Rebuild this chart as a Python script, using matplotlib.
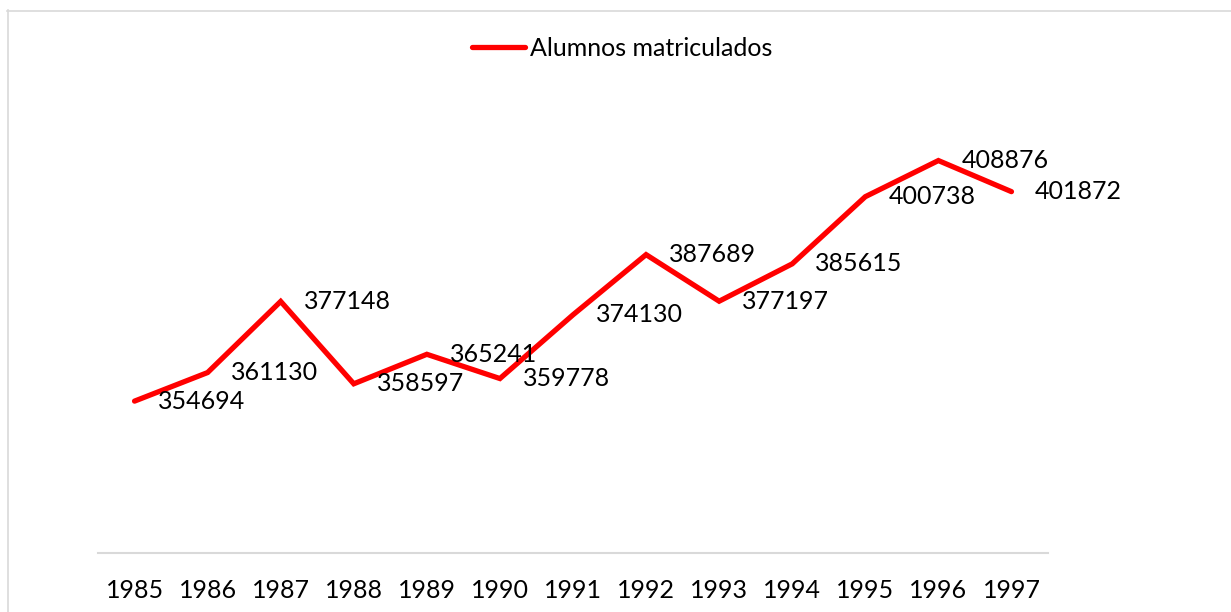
import matplotlib
matplotlib.use("Agg")
import matplotlib.pyplot as plt
from matplotlib.lines import Line2D

years = ["1985", "1986", "1987", "1988", "1989", "1990", "1991",
         "1992", "1993", "1994", "1995", "1996", "1997"]
alumnos = [354694, 361130, 377148, 358597, 365241, 359778, 374130,
           387689, 377197, 385615, 400738, 408876, 401872]

plt.rcParams['font.family'] = ['Lato', 'DejaVu Sans']

W, H = 1231, 612
fig = plt.figure(figsize=(W / 100, H / 100), dpi=100)
ax = fig.add_axes([98 / W, 1 - 552.5 / H, 950 / W, 444 / H])

x = range(len(years))
ax.plot(x, alumnos, color='#ff0000', lw=3.8, solid_joinstyle='miter',
        solid_capstyle='round', label='Alumnos matriculados')

for xi, v in zip(x, alumnos):
    ax.annotate(str(v), (xi, v), xytext=(23, 0), textcoords='offset pixels',
                ha='left', va='center', fontsize=18, color='#000000')

ax.set_xlim(-0.5, len(years) - 0.5)
ax.set_ylim(320600, 420600)
ax.set_xticks(list(x))
ax.set_xticklabels(years, fontsize=18)
ax.tick_params(axis='x', length=0, pad=19)
ax.set_yticks([])
for s in ['top', 'right', 'left']:
    ax.spines[s].set_visible(False)
ax.spines['bottom'].set_color('#d9d9d9')
ax.spines['bottom'].set_linewidth(1.5)

fig.legend(loc='center', bbox_to_anchor=(622 / W, 1 - 48 / H), frameon=False,
           fontsize=18, handlelength=2.1, handletextpad=0.2)

# chart border (light grey)
fig.add_artist(Line2D([7 / W, 1], [1 - 10.5 / H, 1 - 10.5 / H],
                      color='#d9d9d9', lw=1.2, transform=fig.transFigure))
fig.add_artist(Line2D([7.5 / W, 7.5 / W], [0, 1 - 10 / H],
                      color='#d9d9d9', lw=1.2, transform=fig.transFigure))

fig.savefig('out.png', dpi=100)
